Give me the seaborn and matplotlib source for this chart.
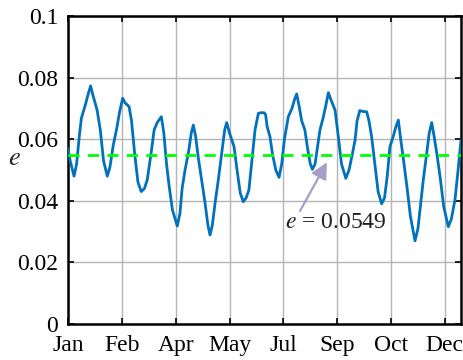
import matplotlib
matplotlib.use("Agg")
import matplotlib.pyplot as plt
import seaborn as sns
import pandas as pd

days = [0, 2, 5.6, 8, 10.5, 12.4, 16, 19, 21, 23, 27, 30, 33, 36.5, 39, 42, 45, 48, 50.8, 53,
        56.7, 59, 62, 65, 68, 71, 73.6, 77, 80, 83, 86.7, 89, 91.5, 94, 97, 101.5, 104, 106,
        108.7, 112, 114.5, 116.4, 118.5, 121, 124, 127, 130, 131.9, 134, 136.5, 139.6, 143,
        145.5, 147.4, 150, 154.2, 157, 160, 162.8, 165.5, 168, 170.5, 173.7, 176.8, 179, 182,
        183.5, 185, 187.6, 190, 193, 196, 198.5, 201, 204.6, 208, 210.5, 212.4, 214.5, 217,
        220, 222.5, 225, 227, 229.5, 232, 234, 237, 239.5, 241.8, 244, 248, 251, 254, 258,
        261, 264, 266.6, 268.5, 271, 274, 277.4, 279.5, 282, 285, 288, 291.3, 294, 296.5,
        299, 302, 304.5, 306.8, 309, 312, 315, 318, 322.3, 325, 327.5, 330, 333, 335.5,
        337.8, 340, 342.5, 345.5, 349, 353.2, 356, 359.4, 362, 365]
e_vals = [0.057, 0.053, 0.048, 0.052, 0.061, 0.0668, 0.071, 0.075, 0.0773, 0.0745, 0.0695,
          0.063, 0.053, 0.048, 0.051, 0.058, 0.063, 0.069, 0.0733, 0.0718, 0.0706, 0.066,
          0.055, 0.046, 0.043, 0.044, 0.0468, 0.055, 0.063, 0.0655, 0.0673, 0.062, 0.052,
          0.0446, 0.037, 0.0318, 0.036, 0.044, 0.050, 0.056, 0.062, 0.0646, 0.061, 0.054,
          0.047, 0.040, 0.032, 0.0289, 0.032, 0.039, 0.0468, 0.056, 0.063, 0.0654, 0.062,
          0.0576, 0.050, 0.0425, 0.0397, 0.041, 0.0435, 0.052, 0.063, 0.0684, 0.0686, 0.0686,
          0.068, 0.064, 0.0608, 0.055, 0.050, 0.0476, 0.052, 0.060, 0.0673, 0.070, 0.073,
          0.0747, 0.071, 0.066, 0.063, 0.057, 0.052, 0.0502, 0.052, 0.058, 0.063, 0.067,
          0.071, 0.0751, 0.073, 0.0695, 0.061, 0.052, 0.0473, 0.050, 0.055, 0.0597, 0.066,
          0.0693, 0.069, 0.0689, 0.066, 0.0608, 0.052, 0.043, 0.039, 0.041, 0.048, 0.0576,
          0.0608, 0.064, 0.0662, 0.060, 0.0522, 0.044, 0.035, 0.027, 0.031, 0.039, 0.0468,
          0.055, 0.062, 0.0654, 0.061, 0.0554, 0.048, 0.038, 0.0316, 0.034, 0.0403, 0.049,
          0.0597]
mean_e = 0.0549
tick_days = [0, 50, 100, 150, 200, 250, 300, 350]
tick_labels = ["Jan", "Feb", "Apr", "May", "Jul", "Sep", "Oct", "Dec"]
y_ticks = [0, 0.02, 0.04, 0.06, 0.08, 0.1]
y_labels = ["0", "0.02", "0.04", "0.06", "0.08", "0.1"]

sns.set_theme(style="ticks")
plt.rcParams['font.family'] = ['Liberation Serif', 'DejaVu Serif']
plt.rcParams['mathtext.fontset'] = 'stix'

df = pd.DataFrame({"day": days, "e": e_vals})

fig = plt.figure(figsize=(4.64, 3.6), dpi=100)
ax = fig.add_axes([68/464, 1-324/360, (461-68)/464, (324-16)/360])

ax.grid(True, color="#b4b4b4", linewidth=1.0)
ax.set_axisbelow(True)
sns.lineplot(data=df, x="day", y="e", ax=ax, color="#0072BD", linewidth=2.0, zorder=3)
ax.axhline(mean_e, color="#00ff00", linestyle=(0, (4, 3)), linewidth=2.0, zorder=4)

ax.set_xlim(0, 365)
ax.set_ylim(0, 0.1)
ax.set_xticks(tick_days)
ax.set_xticklabels(tick_labels)
ax.set_yticks(y_ticks)
ax.set_yticklabels(y_labels)
ax.tick_params(direction="in", length=4, width=1.2, labelsize=17, colors="black",
               top=True, right=True)
ax.tick_params(axis="x", pad=8)
ax.tick_params(axis="y", pad=7)
for s in ax.spines.values():
    s.set_visible(True)
    s.set_color("black")
    s.set_linewidth(1.8)

ax.set_xlabel("")
ax.set_ylabel("$e$", fontsize=19, rotation=0, labelpad=0, va="center", ha="center")
ax.yaxis.set_label_coords(-0.137, 0.535)

ax.text(201.5, 0.0328, "$e$ = 0.0549", fontsize=17, color="#202020",
        ha="left", va="center")
ax.annotate("", xy=(240.5, 0.0525), xytext=(215.5, 0.0367),
            arrowprops=dict(arrowstyle="-|>,head_length=0.7,head_width=0.35",
                            color="#a89cc8", lw=1.6, mutation_scale=14,
                            shrinkA=0, shrinkB=0))

fig.savefig("out.png", dpi=100)
